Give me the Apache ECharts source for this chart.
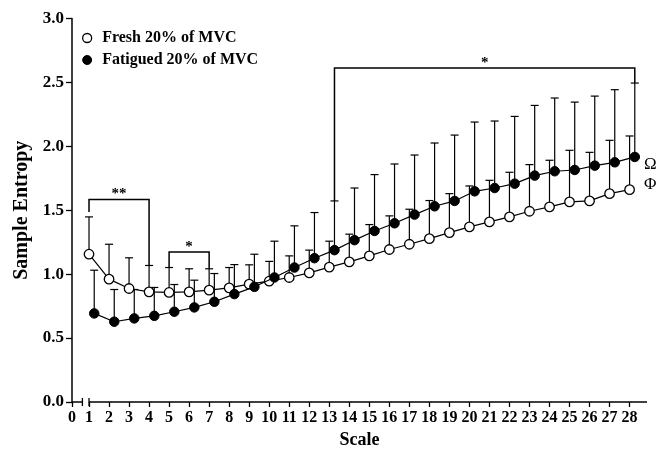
<!DOCTYPE html>
<html>
<head>
<meta charset="utf-8">
<script src="https://cdn.jsdelivr.net/npm/echarts@6/dist/echarts.min.js"></script>
<style>
  html, body { margin: 0; padding: 0; background: #fff; }
  #chart { width: 665px; height: 454px; }
</style>
</head>
<body>
<div id="chart"></div>
<script>
// values
var scales = [1, 2, 3, 4, 5, 6, 7, 8, 9, 10, 11, 12, 13, 14, 15, 16, 17, 18, 19, 20, 21, 22, 23, 24, 25, 26, 27, 28];
var freshMean = [1.156, 0.961, 0.888, 0.862, 0.857, 0.862, 0.875, 0.893, 0.922, 0.945, 0.974, 1.010, 1.055, 1.096,
                 1.143, 1.193, 1.234, 1.278, 1.325, 1.370, 1.409, 1.448, 1.492, 1.526, 1.565, 1.573, 1.630, 1.661];
var freshUpper = [1.448, 1.234, 1.128, 1.068, 1.052, 1.042, 1.042, 1.052, 1.073, 1.100, 1.143, 1.188, 1.258, 1.313,
                  1.388, 1.456, 1.508, 1.576, 1.630, 1.690, 1.734, 1.797, 1.857, 1.891, 1.969, 1.953, 2.047, 2.081];
var fatMean = [0.693, 0.628, 0.654, 0.674, 0.706, 0.740, 0.784, 0.844, 0.901, 0.974, 1.052, 1.125, 1.188, 1.266,
               1.338, 1.398, 1.466, 1.531, 1.573, 1.648, 1.674, 1.708, 1.771, 1.805, 1.815, 1.849, 1.875, 1.917];
var fatUpper = [1.031, 0.880, 0.880, 0.896, 0.919, 0.953, 1.005, 1.075, 1.156, 1.258, 1.378, 1.482, 1.573, 1.674,
                1.779, 1.862, 1.932, 2.026, 2.088, 2.190, 2.198, 2.234, 2.320, 2.378, 2.346, 2.393, 2.443, 2.495];
var FAT_SHIFT = 0.26;   // fatigued points are nudged right of the tick

var xTicks = [0.15, 1, 2, 3, 4, 5, 6, 7, 8, 9, 10, 11, 12, 13, 14, 15, 16, 17, 18, 19, 20, 21, 22, 23, 24, 25, 26, 27, 28];
var yTicks = [0, 0.5, 1, 1.5, 2, 2.5, 3];

// significance brackets
var bracketFrom = [1, 5, 13 + FAT_SHIFT];
var bracketTo = [4, 7, 28 + FAT_SHIFT];
var bracketTop = [1.584, 1.174, 2.612];
var bracketLeftEnd = [1.487, 1.057, 1.573];
var bracketRightEnd = [1.070, 1.041, 2.495];
var bracketLabel = ['**', '*', '*'];

// letters at the right end
var noteText = ['\u03A9', '\u03A6'];
var noteX = [29.03, 29.03];
var noteY = [1.859, 1.703];

// broken x axis pieces
var axisPieceFrom = [0.15, 1.0];
var axisPieceTo = [0.67, 28.87];

var FONT = '"Liberation Serif", "Times New Roman", serif';

var chart = echarts.init(document.getElementById('chart'));

function errRender(params, api) {
    var base = api.coord([api.value(0), api.value(1)]);
    var top = api.coord([api.value(0), api.value(2)]);
    var hw = 4;
    var st = { stroke: '#000', lineWidth: 1.2 };
    return {
        type: 'group',
        children: [
            { type: 'line', shape: { x1: base[0], y1: base[1], x2: top[0], y2: top[1] }, style: st },
            { type: 'line', shape: { x1: top[0] - hw, y1: top[1], x2: top[0] + hw, y2: top[1] }, style: st }
        ]
    };
}

var freshErr = scales.map(function (s, i) { return [s, freshMean[i], freshUpper[i]]; });
var fatErr = scales.map(function (s, i) { return [s + FAT_SHIFT, fatMean[i], fatUpper[i]]; });

var option = {
    animation: false,
    backgroundColor: '#fff',
    grid: { left: 72, right: 18, top: 18.5, bottom: 51.5 },
    legend: {
        orient: 'vertical',
        left: 77,
        top: 25,
        itemWidth: 20,
        itemHeight: 9,
        itemGap: 6,
        textStyle: { fontFamily: FONT, fontWeight: 'bold', fontSize: 16, color: '#000' },
        data: [
            { name: 'Fresh 20% of MVC', icon: 'circle', itemStyle: { color: '#fff', borderColor: '#000', borderWidth: 1.3 } },
            { name: 'Fatigued 20% of MVC', icon: 'circle', itemStyle: { color: '#000', borderColor: '#000', borderWidth: 1 } }
        ]
    },
    xAxis: {
        type: 'value',
        min: 0.15,
        max: 28.87,
        name: 'Scale',
        nameLocation: 'middle',
        nameGap: 29,
        nameTextStyle: { fontFamily: FONT, fontWeight: 'bold', fontSize: 18, color: '#000' },
        axisLine: { show: false },
        axisTick: { show: true, customValues: xTicks, length: 5, lineStyle: { color: '#000', width: 1.3 } },
        axisLabel: {
            customValues: xTicks,
            margin: 8,
            fontFamily: FONT, fontWeight: 'bold', fontSize: 16, color: '#000',
            formatter: function (v) { return v < 0.5 ? '0' : String(v); }
        },
        splitLine: { show: false }
    },
    yAxis: {
        type: 'value',
        min: 0,
        max: 3,
        interval: 0.5,
        name: 'Sample Entropy',
        nameLocation: 'middle',
        nameGap: 33,
        nameTextStyle: { fontFamily: FONT, fontWeight: 'bold', fontSize: 20, color: '#000' },
        axisLine: { show: true, lineStyle: { color: '#000', width: 1.5 } },
        axisTick: { show: true, customValues: yTicks, length: 6, lineStyle: { color: '#000', width: 1.3 } },
        axisLabel: {
            customValues: yTicks,
            margin: 8,
            fontFamily: FONT, fontWeight: 'bold', fontSize: 17, color: '#000',
            formatter: function (v) { return v.toFixed(1); }
        },
        splitLine: { show: false }
    },
    series: [
        {
            // x axis line drawn in two pieces to show the break
            type: 'custom',
            name: 'axis',
            silent: true,
            z: 1,
            data: axisPieceFrom.map(function (a, i) { return [a, axisPieceTo[i]]; }),
            renderItem: function (params, api) {
                var p1 = api.coord([api.value(0), 0]);
                var p2 = api.coord([api.value(1), 0]);
                var st = { stroke: '#000', lineWidth: 1.5 };
                var kids = [{ type: 'line', shape: { x1: p1[0], y1: p1[1], x2: p2[0], y2: p2[1] }, style: st }];
                // end mark next to the gap
                var m = params.dataIndex === 0 ? p2 : p1;
                kids.push({ type: 'line', shape: { x1: m[0], y1: m[1] - 4, x2: m[0], y2: m[1] + 4 }, style: { stroke: '#000', lineWidth: 1.3 } });
                return { type: 'group', children: kids };
            }
        },
        {
            type: 'custom',
            name: 'freshErr',
            silent: true,
            z: 2,
            data: freshErr,
            renderItem: errRender
        },
        {
            type: 'custom',
            name: 'fatErr',
            silent: true,
            z: 2,
            data: fatErr,
            renderItem: errRender
        },
        {
            name: 'Fresh 20% of MVC',
            type: 'line',
            z: 3,
            data: scales.map(function (s, i) { return [s, freshMean[i]]; }),
            symbol: 'circle',
            symbolSize: 9.5,
            itemStyle: { color: '#fff', borderColor: '#000', borderWidth: 1.3 },
            lineStyle: { color: '#000', width: 1.2 }
        },
        {
            name: 'Fatigued 20% of MVC',
            type: 'line',
            z: 4,
            data: scales.map(function (s, i) { return [s + FAT_SHIFT, fatMean[i]]; }),
            symbol: 'circle',
            symbolSize: 9.5,
            itemStyle: { color: '#000', borderColor: '#000', borderWidth: 1 },
            lineStyle: { color: '#000', width: 1.2 }
        },
        {
            type: 'custom',
            name: 'brackets',
            silent: true,
            z: 5,
            data: bracketFrom.map(function (a, i) { return [a, bracketTo[i], bracketTop[i], bracketLeftEnd[i], bracketRightEnd[i]]; }),
            renderItem: function (params, api) {
                var x1 = api.value(0), x2 = api.value(1), t = api.value(2);
                var a = api.coord([x1, api.value(3)]);
                var b = api.coord([x1, t]);
                var c = api.coord([x2, t]);
                var d = api.coord([x2, api.value(4)]);
                return {
                    type: 'group',
                    children: [
                        { type: 'polyline', shape: { points: [a, b, c, d] }, style: { stroke: '#000', lineWidth: 1.5, fill: null } },
                        {
                            type: 'text',
                            style: {
                                x: (b[0] + c[0]) / 2, y: b[1] - 5,
                                text: bracketLabel[params.dataIndex],
                                align: 'center', verticalAlign: 'middle',
                                font: 'bold 15px ' + FONT, fill: '#000'
                            }
                        }
                    ]
                };
            }
        },
        {
            type: 'custom',
            name: 'notes',
            silent: true,
            z: 5,
            data: noteX.map(function (x, i) { return [x, noteY[i]]; }),
            renderItem: function (params, api) {
                var p = api.coord([api.value(0), api.value(1)]);
                return {
                    type: 'text',
                    style: {
                        x: p[0], y: p[1],
                        text: noteText[params.dataIndex],
                        align: 'center', verticalAlign: 'middle',
                        font: '17px ' + FONT, fill: '#000'
                    }
                };
            }
        }
    ]
};

chart.setOption(option);
</script>
</body>
</html>
